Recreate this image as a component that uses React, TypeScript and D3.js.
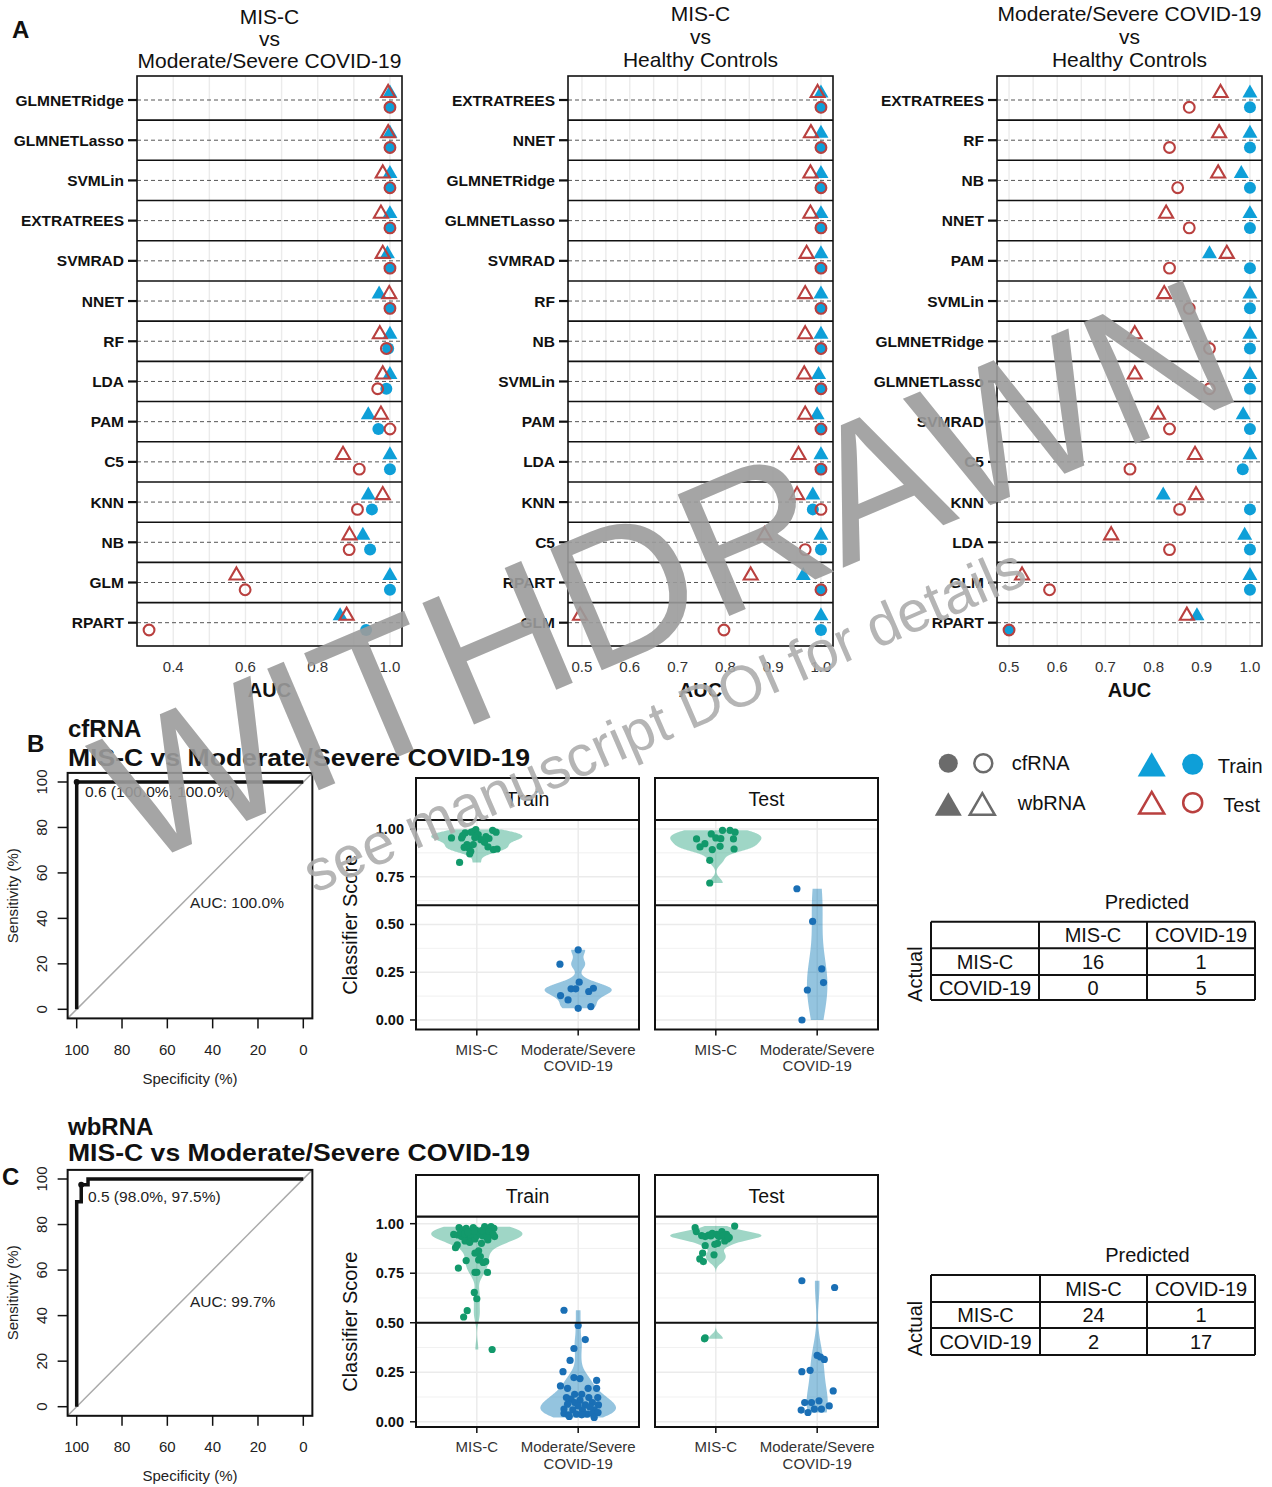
import React from "react";
import * as d3 from "d3";

const FONT = "'Liberation Sans', Arial, Helvetica, sans-serif";
const BLUE = "#0E9FD8";
const RED = "#B9403F";
const GREY = "#6b6b6b";

// ---------- panel A : AUC of every model ----------
const modelsMiscVsCovid = ["GLMNETRidge", "GLMNETLasso", "SVMLin", "EXTRATREES", "SVMRAD", "NNET", "RF", "LDA", "PAM", "C5", "KNN", "NB", "GLM", "RPART"];
const wbTrainMiscVsCovid = [1.0, 1.0, 1.0, 1.0, 0.993, 0.97, 1.0, 1.0, 0.94, 1.0, 0.94, 0.925, 1.0, 0.862];
const wbTestMiscVsCovid = [0.995, 0.995, 0.98, 0.975, 0.98, 0.998, 0.972, 0.98, 0.975, 0.87, 0.98, 0.888, 0.575, 0.88];
const cfTrainMiscVsCovid = [1.0, 1.0, 1.0, 1.0, 1.0, 1.0, 0.995, 0.99, 0.968, 1.0, 0.95, 0.945, 1.0, 0.934];
const cfTestMiscVsCovid = [1.0, 1.0, 1.0, 1.0, 1.0, 1.0, 0.99, 0.966, 1.0, 0.915, 0.91, 0.887, 0.599, 0.333];

const modelsMiscVsHealthy = ["EXTRATREES", "NNET", "GLMNETRidge", "GLMNETLasso", "SVMRAD", "RF", "NB", "SVMLin", "PAM", "LDA", "KNN", "C5", "RPART", "GLM"];
const wbTrainMiscVsHealthy = [1.0, 1.0, 1.0, 1.0, 1.0, 1.0, 1.0, 0.995, 0.992, 1.0, 0.983, 1.0, 0.963, 1.0];
const wbTestMiscVsHealthy = [0.993, 0.979, 0.978, 0.978, 0.97, 0.967, 0.967, 0.965, 0.967, 0.953, 0.95, 0.882, 0.853, 0.496];
const cfTrainMiscVsHealthy = [1.0, 1.0, 1.0, 1.0, 1.0, 1.0, 1.0, 1.0, 1.0, 1.0, 0.983, 1.0, 1.0, 1.0];
const cfTestMiscVsHealthy = [1.0, 1.0, 1.0, 1.0, 1.0, 1.0, 1.0, 1.0, 1.0, 1.0, 1.0, 0.967, 1.0, 0.797];

const modelsCovidVsHealthy = ["EXTRATREES", "RF", "NB", "NNET", "PAM", "SVMLin", "GLMNETRidge", "GLMNETLasso", "SVMRAD", "C5", "KNN", "LDA", "GLM", "RPART"];
const wbTrainCovidVsHealthy = [1.0, 1.0, 0.982, 1.0, 0.916, 1.0, 1.0, 1.0, 0.986, 1.0, 0.82, 0.989, 1.0, 0.89];
const wbTestCovidVsHealthy = [0.939, 0.936, 0.934, 0.826, 0.952, 0.822, 0.761, 0.761, 0.809, 0.886, 0.888, 0.712, 0.527, 0.869];
const cfTrainCovidVsHealthy = [1.0, 1.0, 1.0, 1.0, 1.0, 1.0, 1.0, 1.0, 1.0, 0.985, 1.0, 1.0, 1.0, 0.5];
const cfTestCovidVsHealthy = [0.874, 0.833, 0.85, 0.874, 0.833, 0.874, 0.916, 0.916, 0.833, 0.751, 0.854, 0.833, 0.584, 0.5];

// ---------- panels B / C : ROC steps (specificity, sensitivity) ----------
const rocCf = [[100, 0], [100, 100], [0, 100]];
const rocWb = [[100, 0], [100, 90], [98, 90], [98, 97.5], [95, 97.5], [95, 100], [0, 100]];
const rocTicks = [100, 80, 60, 40, 20, 0];

// ---------- classifier scores: [jitter, score] ----------
const cfTrainMisc = [[-0.17, 0.825], [-0.25, 0.953], [-0.15, 0.953], [-0.115, 0.979], [-0.097, 0.918], [-0.08, 0.9], [-0.06, 0.883], [-0.055, 0.983], [-0.03, 0.988], [-0.01, 0.997], [0, 0.962], [0.014, 0.97], [0.04, 0.944], [0.07, 0.94], [0.11, 0.906], [0.156, 0.993], [0.19, 0.983], [0.163, 0.892], [0.2, 0.895], [-0.07, 0.87], [-0.125, 0.904], [-0.035, 0.918], [0.076, 0.93], [-0.02, 0.955], [0.09, 0.96], [-0.14, 0.965], [0.12, 0.95]];
const cfTrainCovid = [[0, 0.367], [-0.18, 0.292], [0.01, 0.198], [-0.07, 0.163], [-0.024, 0.163], [0.104, 0.149], [0.15, 0.166], [-0.174, 0.128], [-0.1, 0.105], [0, 0.061], [0.125, 0.07]];
const cfTestMisc = [[-0.19, 0.948], [-0.156, 0.906], [-0.108, 0.923], [-0.045, 0.974], [0, 0.953], [-0.035, 0.892], [0.042, 0.909], [0.049, 0.949], [0.066, 0.993], [0.14, 0.993], [0.19, 0.983], [0.174, 0.948], [0.18, 0.895], [-0.06, 0.836], [-0.06, 0.717]];
const cfTestCovid = [[-0.2, 0.687], [-0.045, 0.516], [0.045, 0.267], [0.0625, 0.196], [-0.097, 0.157], [-0.15, 0.0]];

const wbTrainMisc = [[-0.175, 0.98], [-0.14, 0.968], [-0.105, 0.977], [-0.07, 0.96], [-0.035, 0.98], [-0.01, 0.968], [0.077, 0.985], [0.105, 0.977], [0.14, 0.985], [0.168, 0.977], [-0.228, 0.946], [-0.186, 0.943], [-0.151, 0.935], [-0.088, 0.94], [-0.053, 0.926], [0.088, 0.951], [0.13, 0.943], [0.175, 0.935], [-0.193, 0.893], [-0.116, 0.913], [-0.07, 0.906], [-0.018, 0.923], [0.046, 0.901], [0.109, 0.918], [-0.21, 0.879], [0.018, 0.863], [-0.018, 0.851], [0.035, 0.834], [-0.105, 0.814], [0.018, 0.817], [0.063, 0.804], [0.088, 0.809], [-0.182, 0.776], [-0.018, 0.754], [0, 0.755], [0.105, 0.754], [-0.025, 0.653], [0, 0.621], [-0.095, 0.561], [-0.13, 0.529], [0.151, 0.365], [-0.16, 0.955], [-0.12, 0.95], [-0.06, 0.945], [0.0, 0.94], [0.03, 0.952], [0.06, 0.938], [0.12, 0.96], [0.16, 0.948], [-0.03, 0.962], [0.05, 0.965], [0.1, 0.93], [-0.09, 0.958]];
const wbTrainCovid = [[-0.14, 0.563], [0, 0.486], [0.07, 0.415], [-0.042, 0.37], [-0.08, 0.31], [-0.15, 0.253], [-0.042, 0.223], [0.018, 0.218], [0.182, 0.209], [-0.175, 0.181], [-0.105, 0.169], [0.098, 0.169], [0.182, 0.169], [0.035, 0.139], [0.105, 0.122], [0.193, 0.122], [-0.07, 0.114], [0.018, 0.109], [-0.035, 0.097], [0.14, 0.097], [-0.105, 0.089], [0.07, 0.085], [0.2, 0.085], [-0.14, 0.064], [-0.053, 0.06], [0.042, 0.059], [0.158, 0.06], [-0.14, 0.042], [-0.098, 0.035], [-0.018, 0.039], [0.088, 0.039], [0.14, 0.042], [0.196, 0.047], [-0.088, 0.027], [0.035, 0.035], [0, 0.08], [0.116, 0.075], [-0.035, 0.139], [-0.116, 0.122], [0.158, 0.022]];
const wbTestMisc = [[-0.204, 0.98], [-0.193, 0.96], [0.186, 0.988], [-0.105, 0.935], [-0.07, 0.943], [-0.035, 0.951], [0.01, 0.946], [0.06, 0.96], [0.105, 0.946], [0.116, 0.923], [0.133, 0.93], [0.088, 0.913], [0.018, 0.901], [-0.01, 0.896], [-0.105, 0.889], [-0.13, 0.851], [-0.158, 0.822], [-0.123, 0.809], [-0.018, 0.843], [-0.105, 0.424], [-0.112, 0.419], [-0.05, 0.938], [0.03, 0.935], [0.07, 0.94], [-0.14, 0.94], [0.12, 0.935]];
const wbTestCovid = [[-0.151, 0.712], [0.172, 0.678], [0, 0.335], [0.032, 0.327], [0.07, 0.315], [-0.151, 0.253], [-0.07, 0.26], [0.158, 0.156], [-0.123, 0.097], [-0.056, 0.097], [0.018, 0.106], [0.119, 0.08], [-0.158, 0.059], [-0.091, 0.047], [-0.028, 0.064], [0.042, 0.064]];

const scoreTicks = [0, 0.25, 0.5, 0.75, 1.0];
const groupLabels = [["MIS-C"], ["Moderate/Severe", "COVID-19"]];

// ---------- confusion matrices ----------
const confLabels = ["MIS-C", "COVID-19"];
const confCf = [[16, 1], [0, 5]];
const confWb = [[24, 1], [2, 17]];

const tri = (cx: number, cy: number, w: number) => {
  const h = w * 0.866;
  return `M${cx},${cy - h / 2}L${cx + w / 2},${cy + h / 2}L${cx - w / 2},${cy + h / 2}Z`;
};

function AucPanel({ p }: any) {
  const all = [...p.wbTrain, ...p.wbTest, ...p.cfTrain, ...p.cfTest];
  const [lo, hi] = d3.extent(all) as [number, number];
  const pad = (hi - lo) * 0.05;
  const x = d3.scaleLinear().domain([lo - pad, hi + pad]).range([p.x0, p.x1]);
  const y = d3.scalePoint<string>().domain(p.models).range([100, 622.7]);
  const top = 76, bottom = 646;
  const major = x.ticks(5);
  const st = major[1] - major[0];
  const grid: number[] = [];
  for (let v = major[0] - st / 2; v <= hi + pad + 1e-9; v += st / 2) if (v >= lo - pad) grid.push(v);
  const cx = (p.x0 + p.x1) / 2;
  return (
    <g>
      {p.title.map((t: string, i: number) => (
        <text key={i} x={cx} y={p.titleY[i]} textAnchor="middle" fontSize={21} fill="#111">{t}</text>
      ))}
      {grid.map((v, i) => (
        <line key={i} x1={x(v)} x2={x(v)} y1={top} y2={bottom} stroke="#EBEBEB" strokeWidth={1.4} />
      ))}
      {p.models.slice(1).map((m: string, i: number) => {
        const yy = (y(p.models[i])! + y(m)!) / 2;
        return <line key={m} x1={p.x0} x2={p.x1} y1={yy} y2={yy} stroke="#111" strokeWidth={1.6} />;
      })}
      {p.models.map((m: string) => (
        <g key={m}>
          <line x1={p.x0} x2={p.x1} y1={y(m)} y2={y(m)} stroke="#555" strokeWidth={1} strokeDasharray="4,3" />
          <line x1={p.x0 - 9} x2={p.x0} y1={y(m)} y2={y(m)} stroke="#111" strokeWidth={2.2} />
          <text x={p.x0 - 13} y={y(m)! + 5.5} textAnchor="end" fontSize={15.5} fontWeight="bold" fill="#111">{m}</text>
        </g>
      ))}
      {p.models.map((m: string, i: number) => (
        <g key={"pt" + m}>
          <circle cx={x(p.cfTrain[i])} cy={y(m)! + 7.3} r={6} fill={BLUE} />
          <circle cx={x(p.cfTest[i])} cy={y(m)! + 7.3} r={5.4} fill="none" stroke={RED} strokeWidth={2.1} />
          <path d={tri(x(p.wbTrain[i]), y(m)! - 9, 15)} fill={BLUE} />
          <path d={tri(x(p.wbTest[i]), y(m)! - 9, 14)} fill="none" stroke={RED} strokeWidth={2.1} strokeLinejoin="miter" />
        </g>
      ))}
      <rect x={p.x0} y={top} width={p.x1 - p.x0} height={bottom - top} fill="none" stroke="#111" strokeWidth={1.6} />
      {major.map(v => (
        <text key={v} x={x(v)} y={672} textAnchor="middle" fontSize={15} fill="#333">{d3.format(".1f")(v)}</text>
      ))}
      <text x={cx} y={697} textAnchor="middle" fontSize={20} fontWeight="bold" fill="#111">AUC</text>
    </g>
  );
}

function Roc({ r }: any) {
  const x = d3.scaleLinear().domain([100, 0]).range([76.7, 303.3]);
  const y = d3.scaleLinear().domain([0, 100]).range([r.y0, r.y100]);
  const line = d3.line<number[]>().x(d => x(d[0])).y(d => y(d[1]));
  const fx0 = x(104), fx1 = x(-4), fy0 = y(104), fy1 = y(-4);
  return (
    <g fill="#222">
      <line x1={fx0} y1={fy1} x2={fx1} y2={fy0} stroke="#AAAAAA" strokeWidth={1.5} />
      <path d={line(r.roc)!} fill="none" stroke="#111" strokeWidth={3.5} strokeLinejoin="miter" />
      <circle cx={x(r.thr[0])} cy={y(r.thr[1])} r={3} fill="#111" />
      <text x={r.thrLabel[0]} y={r.thrLabel[1]} fontSize={15.5}>{r.thrText}</text>
      <text x={x(50)} y={r.aucY} fontSize={15.5}>{r.aucText}</text>
      <rect x={fx0} y={fy0} width={fx1 - fx0} height={fy1 - fy0} fill="none" stroke="#111" strokeWidth={2} />
      {rocTicks.map(t => (
        <g key={t}>
          <line x1={x(t)} x2={x(t)} y1={fy1} y2={fy1 + 10} stroke="#111" strokeWidth={1.5} />
          <text x={x(t)} y={r.xLabY} textAnchor="middle" fontSize={15}>{t}</text>
          <line x1={fx0 - 10} x2={fx0} y1={y(t)} y2={y(t)} stroke="#111" strokeWidth={1.5} />
          <text transform={`translate(46.5,${y(t)}) rotate(-90)`} textAnchor="middle" fontSize={15}>{t}</text>
        </g>
      ))}
      <text x={(fx0 + fx1) / 2} y={r.xTitleY} textAnchor="middle" fontSize={15}>Specificity (%)</text>
      <text transform={`translate(17.5,${(fy0 + fy1) / 2}) rotate(-90)`} textAnchor="middle" fontSize={15}>Sensitivity (%)</text>
    </g>
  );
}

function nrd0(v: number[]) {
  const s = [...v].sort(d3.ascending);
  const sd = d3.deviation(s) || 0;
  const iqr = (d3.quantile(s, 0.75) as number) - (d3.quantile(s, 0.25) as number);
  let lo = Math.min(sd, iqr / 1.34);
  if (!(lo > 0)) lo = sd || 1;
  return 0.9 * lo * Math.pow(s.length, -0.2);
}

function density(v: number[]) {
  const bw = nrd0(v);
  const [mn, mx] = d3.extent(v) as [number, number];
  const k = 1 / (v.length * bw * Math.sqrt(2 * Math.PI));
  return d3.range(160).map(i => {
    const t = mn + ((mx - mn) * i) / 159;
    return [t, k * d3.sum(v, xi => Math.exp(-0.5 * ((t - xi) / bw) ** 2))];
  });
}

const VIOLIN_FILL = ["#1B9E77", "#0072B2"];
const POINT_FILL = ["#12996B", "#1A6FB5"];

function ViolinFigure({ f }: any) {
  const allScores = f.facets.flatMap((fc: any) => fc.groups.flatMap((g: number[][]) => g.map(d => d[1])));
  const [lo, hi] = d3.extent(allScores) as [number, number];
  const pad = (hi - lo) * 0.05;
  const y = d3.scaleLinear().domain([lo - pad, hi + pad]).range([f.panelBottom, f.panelTop]);
  const minor = [0.125, 0.375, 0.625, 0.875];
  return (
    <g>
      <text transform={`translate(357,${(f.panelTop + f.panelBottom) / 2}) rotate(-90)`} textAnchor="middle" fontSize={20} fill="#111">Classifier Score</text>
      {scoreTicks.map(t => (
        <g key={t}>
          <line x1={f.facets[0].x0 - 6} x2={f.facets[0].x0} y1={y(t)} y2={y(t)} stroke="#111" strokeWidth={1.5} />
          <text x={f.facets[0].x0 - 12} y={y(t) + 5} textAnchor="end" fontSize={14.5} fontWeight="bold" fill="#111">{d3.format(".2f")(t)}</text>
        </g>
      ))}
      {f.facets.map((fc: any) => {
        const x = d3.scaleLinear().domain([0.4, 2.6]).range([fc.x0, fc.x1]);
        const unit = x(2) - x(1);
        const dens = fc.groups.map((g: number[][]) => density(g.map(d => d[1])));
        const maxD = d3.max(dens.flat(), (d: number[]) => d[1]) as number;
        return (
          <g key={fc.name}>
            <rect x={fc.x0} y={f.panelTop} width={fc.x1 - fc.x0} height={f.panelBottom - f.panelTop} fill="white" />
            {minor.map(t => <line key={t} x1={fc.x0} x2={fc.x1} y1={y(t)} y2={y(t)} stroke="#EEEEEE" strokeWidth={0.8} />)}
            {scoreTicks.map(t => <line key={t} x1={fc.x0} x2={fc.x1} y1={y(t)} y2={y(t)} stroke="#EBEBEB" strokeWidth={1.5} />)}
            {[1, 2].map(c => <line key={c} x1={x(c)} x2={x(c)} y1={f.panelTop} y2={f.panelBottom} stroke="#EBEBEB" strokeWidth={1.5} />)}
            {dens.map((d: number[][], gi: number) => {
              const cx = x(gi + 1);
              const area = d3.area<number[]>()
                .y(p => y(p[0]))
                .x0(p => cx - (p[1] / maxD) * 0.45 * unit)
                .x1(p => cx + (p[1] / maxD) * 0.45 * unit);
              return <path key={gi} d={area(d)!} fill={VIOLIN_FILL[gi]} fillOpacity={0.42} />;
            })}
            {fc.groups.map((g: number[][], gi: number) =>
              g.map((d, i) => (
                <circle key={gi + "-" + i} cx={x(gi + 1 + d[0])} cy={y(d[1])} r={3.6} fill={POINT_FILL[gi]} />
              ))
            )}
            <line x1={fc.x0} x2={fc.x1} y1={y(f.threshold)} y2={y(f.threshold)} stroke="#111" strokeWidth={2} />
            <rect x={fc.x0} y={f.panelTop} width={fc.x1 - fc.x0} height={f.panelBottom - f.panelTop} fill="none" stroke="#111" strokeWidth={2} />
            <rect x={fc.x0} y={f.stripTop} width={fc.x1 - fc.x0} height={f.panelTop - f.stripTop} fill="white" stroke="#111" strokeWidth={2} />
            <text x={(fc.x0 + fc.x1) / 2} y={(f.stripTop + f.panelTop) / 2 + 7} textAnchor="middle" fontSize={19.5} fill="#111">{fc.name}</text>
            {[1, 2].map(c => (
              <g key={c}>
                <line x1={x(c)} x2={x(c)} y1={f.panelBottom} y2={f.panelBottom + 6} stroke="#111" strokeWidth={1.5} />
                {groupLabels[c - 1].map((l, li) => (
                  <text key={l} x={x(c)} y={f.panelBottom + 25 + li * 16.5} textAnchor="middle" fontSize={15} fill="#333">{l}</text>
                ))}
              </g>
            ))}
          </g>
        );
      })}
    </g>
  );
}

function ConfTable({ t }: any) {
  const cx = (i: number) => (t.cols[i] + t.cols[i + 1]) / 2;
  const cy = (i: number) => (t.rows[i] + t.rows[i + 1]) / 2 + 7;
  return (
    <g fontSize={20} fill="#111" textAnchor="middle">
      <text x={(t.cols[1] + t.cols[3]) / 2} y={t.rows[0] - 13}>Predicted</text>
      <text transform={`translate(922,${(t.rows[1] + t.rows[3]) / 2}) rotate(-90)`}>Actual</text>
      {confLabels.map((l, i) => <text key={"c" + l} x={cx(i + 1)} y={cy(0)}>{l}</text>)}
      {confLabels.map((l, i) => <text key={"r" + l} x={cx(0)} y={cy(i + 1)}>{l}</text>)}
      {t.values.map((row: number[], i: number) => row.map((v, j) => (
        <text key={i + "-" + j} x={cx(j + 1)} y={cy(i + 1)}>{v}</text>
      )))}
      {t.rows.map((r: number, i: number) => (
        <line key={"h" + i} x1={t.cols[0]} x2={t.cols[3]} y1={r} y2={r} stroke="#111" strokeWidth={2} />
      ))}
      {t.cols.map((c: number, i: number) => (
        <line key={"v" + i} x1={c} x2={c} y1={t.rows[0]} y2={t.rows[3]} stroke="#111" strokeWidth={2} />
      ))}
    </g>
  );
}

export default function App() {
  const aucPanels = [
    { title: ["MIS-C", "vs", "Moderate/Severe COVID-19"], titleY: [24, 46, 68], models: modelsMiscVsCovid, wbTrain: wbTrainMiscVsCovid, wbTest: wbTestMiscVsCovid, cfTrain: cfTrainMiscVsCovid, cfTest: cfTestMiscVsCovid, x0: 137, x1: 402 },
    { title: ["MIS-C", "vs", "Healthy Controls"], titleY: [21, 44, 67], models: modelsMiscVsHealthy, wbTrain: wbTrainMiscVsHealthy, wbTest: wbTestMiscVsHealthy, cfTrain: cfTrainMiscVsHealthy, cfTest: cfTestMiscVsHealthy, x0: 568, x1: 833 },
    { title: ["Moderate/Severe COVID-19", "vs", "Healthy Controls"], titleY: [21, 44, 67], models: modelsCovidVsHealthy, wbTrain: wbTrainCovidVsHealthy, wbTest: wbTestCovidVsHealthy, cfTrain: cfTrainCovidVsHealthy, cfTest: cfTestCovidVsHealthy, x0: 997, x1: 1262 },
  ];
  const rocs = [
    { roc: rocCf, y0: 1009.3, y100: 782, thr: [100, 100], thrText: "0.6 (100.0%, 100.0%)", thrLabel: [85, 797], aucText: "AUC: 100.0%", aucY: 908, xLabY: 1055, xTitleY: 1084 },
    { roc: rocWb, y0: 1406.7, y100: 1179, thr: [98, 97.5], thrText: "0.5 (98.0%, 97.5%)", thrLabel: [88, 1202], aucText: "AUC: 99.7%", aucY: 1307, xLabY: 1452, xTitleY: 1481 },
  ];
  const violins = [
    { stripTop: 778, panelTop: 820, panelBottom: 1029.5, threshold: 0.6, facets: [
      { name: "Train", x0: 416, x1: 639, groups: [cfTrainMisc, cfTrainCovid] },
      { name: "Test", x0: 655, x1: 878, groups: [cfTestMisc, cfTestCovid] },
    ] },
    { stripTop: 1175, panelTop: 1216.5, panelBottom: 1427, threshold: 0.5, facets: [
      { name: "Train", x0: 416, x1: 639, groups: [wbTrainMisc, wbTrainCovid] },
      { name: "Test", x0: 655, x1: 878, groups: [wbTestMisc, wbTestCovid] },
    ] },
  ];
  const tables = [
    { values: confCf, cols: [931, 1039, 1147, 1255], rows: [921.7, 948.3, 975, 1000] },
    { values: confWb, cols: [931, 1040, 1147, 1255], rows: [1275, 1302, 1328, 1355] },
  ];

  return (
    <svg width={1272} height={1487} style={{ position: "absolute", left: 0, top: 0, display: "block", background: "white" }} fontFamily={FONT}>
      <rect width={1272} height={1487} fill="white" />
      <text x={12} y={38} fontSize={24} fontWeight="bold" fill="#111">A</text>
      {aucPanels.map((p, i) => <AucPanel key={i} p={p} />)}

      <text x={27} y={752} fontSize={24} fontWeight="bold" fill="#111">B</text>
      <text x={68} y={737} fontSize={24} fontWeight="bold" fill="#111">cfRNA</text>
      <text x={68} y={766} fontSize={24} fontWeight="bold" fill="#111" textLength={462} lengthAdjust="spacingAndGlyphs">MIS-C vs Moderate/Severe COVID-19</text>
      <text x={2} y={1185} fontSize={24} fontWeight="bold" fill="#111">C</text>
      <text x={68} y={1135} fontSize={24} fontWeight="bold" fill="#111">wbRNA</text>
      <text x={68} y={1161} fontSize={24} fontWeight="bold" fill="#111" textLength={462} lengthAdjust="spacingAndGlyphs">MIS-C vs Moderate/Severe COVID-19</text>

      {rocs.map((r, i) => <Roc key={i} r={r} />)}
      {violins.map((f, i) => <ViolinFigure key={i} f={f} />)}

      <g fontSize={20} fill="#111">
        <circle cx={948.3} cy={763.3} r={9.5} fill={GREY} />
        <circle cx={983.3} cy={763.3} r={9} fill="none" stroke={GREY} strokeWidth={2.5} />
        <path d={tri(948.3, 804, 27)} fill={GREY} />
        <path d={tri(982.3, 804, 25)} fill="none" stroke={GREY} strokeWidth={2.5} />
        <text x={1011.7} y={770}>cfRNA</text>
        <text x={1017.7} y={810}>wbRNA</text>
        <path d={tri(1151.7, 764.3, 28)} fill={BLUE} />
        <circle cx={1192.7} cy={764.3} r={10.5} fill={BLUE} />
        <path d={tri(1151.7, 802.7, 25)} fill="none" stroke={RED} strokeWidth={2.5} />
        <circle cx={1192.7} cy={802.7} r={9.5} fill="none" stroke={RED} strokeWidth={2.5} />
        <text x={1217.7} y={772.7}>Train</text>
        <text x={1223.3} y={811.7}>Test</text>
      </g>
      {tables.map((t, i) => <ConfTable key={i} t={t} />)}

      <g opacity={0.9} fontFamily={FONT} textAnchor="middle">
        <text transform="translate(692,632) rotate(-23)" fontSize={192} fill="#9c9c9c">WITHDRAWN</text>
        <text transform="translate(672,738) rotate(-23.5)" fontSize={58} fill="#adadad">see manuscript DOI for details</text>
      </g>
    </svg>
  );
}
